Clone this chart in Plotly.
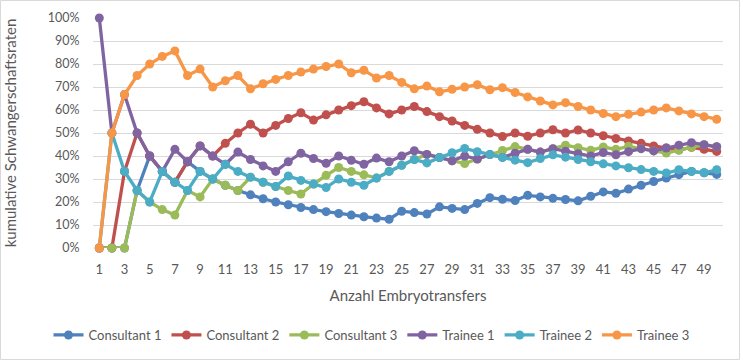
import plotly.graph_objects as go

transfers = list(range(1, 51))
x_tick_labels = [str(i) for i in range(1, 50, 2)]
y_tick_values = list(range(0, 101, 10))
y_tick_labels = [f"{v}%" for v in y_tick_values]

consultant_1 = [0, 0, 0, 25, 40, 33.3, 28.6, 37.5, 33.3, 30,
                27.3, 25, 23.1, 21.4, 20, 18.8, 17.6, 16.7, 15.8, 15,
                14.3, 13.6, 13.0, 12.5, 16, 15.4, 14.8, 17.9, 17.2, 16.7,
                19.4, 21.9, 21.2, 20.6, 22.9, 22.2, 21.6, 21.1, 20.5, 22.5,
                24.4, 23.8, 25.6, 27.3, 28.9, 30.4, 31.9, 33.3, 32.7, 32.0]
consultant_2 = [0, 0, 33.3, 50, 40, 33.3, 28.6, 37.5, 44.4, 40,
                45.5, 50, 53.8, 50, 53.3, 56.3, 58.8, 55.6, 57.9, 60,
                61.9, 63.6, 60.9, 58.3, 60, 61.5, 59.3, 57.1, 55.2, 53.3,
                51.6, 50, 48.5, 50, 48.6, 50, 51.4, 50, 51.3, 50,
                48.8, 47.6, 46.5, 45.5, 44.4, 43.5, 42.6, 43.8, 42.9, 42.0]
consultant_3 = [0, 0, 0, 25, 20, 16.7, 14.3, 25, 22.2, 30,
                27.3, 25, 30.8, 28.6, 26.7, 25, 23.5, 27.8, 31.6, 35,
                33.3, 31.8, 30.4, 33.3, 36, 38.5, 40.7, 39.3, 37.9, 36.7,
                38.7, 40.6, 42.4, 44.1, 42.9, 41.7, 43.2, 44.7, 43.6, 42.5,
                43.9, 42.9, 44.2, 43.2, 42.2, 41.3, 42.6, 43.8, 44.9, 44.0]
trainee_1 = [100, 50, 66.7, 50, 40, 33.3, 42.9, 37.5, 44.4, 40,
             36.4, 41.7, 38.5, 35.7, 33.3, 37.5, 41.2, 38.9, 36.8, 40,
             38.1, 36.4, 39.1, 37.5, 40, 42.3, 40.7, 39.3, 37.9, 40,
             38.7, 40.6, 39.4, 41.2, 42.9, 41.7, 43.2, 42.1, 41.0, 40.0,
             41.5, 40.5, 41.9, 43.2, 42.2, 43.5, 44.7, 45.8, 44.9, 44.0]
trainee_2 = [0, 50, 33.3, 25, 20, 33.3, 28.6, 25, 33.3, 30,
             36.4, 33.3, 30.8, 28.6, 26.7, 31.3, 29.4, 27.8, 26.3, 30,
             28.6, 27.3, 30.4, 33.3, 36, 38.5, 37, 39.3, 41.4, 43.3,
             41.9, 40.6, 39.4, 38.2, 37.1, 38.9, 40.5, 39.5, 38.5, 37.5,
             36.6, 35.7, 34.9, 34.1, 33.3, 32.6, 34.0, 33.3, 32.7, 34.0]
trainee_3 = [0, 50, 66.7, 75, 80, 83.3, 85.7, 75, 77.8, 70,
             72.7, 75, 69.2, 71.4, 73.3, 75, 76.5, 77.8, 78.9, 80,
             76.2, 77.3, 73.9, 75, 72, 69.2, 70.4, 67.9, 69, 70,
             71, 68.8, 69.7, 67.6, 65.7, 63.9, 62.2, 63.2, 61.5, 60,
             58.5, 57.1, 58.1, 59.1, 60, 60.9, 59.6, 58.3, 57.1, 56]

series_names = ["Consultant 1", "Consultant 2", "Consultant 3",
                "Trainee 1", "Trainee 2", "Trainee 3"]
series_values = [consultant_1, consultant_2, consultant_3,
                 trainee_1, trainee_2, trainee_3]
series_colors = ["#4F81BD", "#C0504D", "#9BBB59", "#8064A2", "#4BACC6", "#F79646"]

FONT = "Lato, Carlito, 'Open Sans', sans-serif"
GREY = "#595959"

fig = go.Figure()
for name, vals, col in zip(series_names, series_values, series_colors):
    fig.add_trace(go.Scatter(
        x=transfers, y=vals, name=name, mode="lines+markers",
        line=dict(color=col, width=3.3),
        marker=dict(color=col, size=9, line=dict(width=0)),
        cliponaxis=False,
    ))

W, H = 743, 362
# plot area in page pixels
PX0, PX1, PY0, PY1 = 93, 723, 18, 248

fig.update_layout(
    width=W, height=H,
    margin=dict(l=0, r=0, t=0, b=0, autoexpand=False),
    paper_bgcolor="white", plot_bgcolor="white",
    font=dict(family=FONT, color=GREY, size=12),
    showlegend=True,
    legend=dict(orientation="h", x=0.5, xanchor="center",
                y=1 - 335 / H, yanchor="middle",
                font=dict(family=FONT, size=13, color=GREY),
                itemwidth=30, tracegroupgap=0, bgcolor="rgba(0,0,0,0)"),
    xaxis=dict(
        domain=[PX0 / W, PX1 / W],
        range=[0.5, 50.5], tickmode="array",
        tickvals=list(range(1, 50, 2)), ticktext=x_tick_labels,
        showgrid=False, zeroline=False, showline=False,
        ticks="outside", ticklen=9, tickcolor="rgba(0,0,0,0)",
        tickfont=dict(family=FONT, size=13, color=GREY),
        title=dict(text="Anzahl Embryotransfers", standoff=14,
                   font=dict(family=FONT, size=15, color=GREY)),
        automargin=False,
    ),
    yaxis=dict(
        domain=[1 - PY1 / H, 1 - PY0 / H],
        range=[0, 100], tickmode="array", tickvals=y_tick_values,
        ticktext=y_tick_labels,
        showgrid=True, gridcolor="#D9D9D9", gridwidth=1,
        zeroline=False, showline=False,
        ticks="outside", ticklen=10, tickcolor="rgba(0,0,0,0)",
        tickfont=dict(family=FONT, size=12.5, color=GREY),
        title=dict(text="kumulative Schwangerschaftsraten", standoff=27,
                   font=dict(family=FONT, size=15, color=GREY)),
        automargin=False,
    ),
    shapes=[dict(type="rect", xref="paper", yref="paper",
                 x0=0.5 / W, x1=739.5 / W,
                 y0=1 - 359.5 / H, y1=1 - 0.5 / H,
                 line=dict(color="#D9D9D9", width=1), fillcolor="rgba(0,0,0,0)",
                 layer="below")],
)

fig.write_html("out.html",
               config={"displayModeBar": False},
               post_script="document.body.style.margin='0';")
